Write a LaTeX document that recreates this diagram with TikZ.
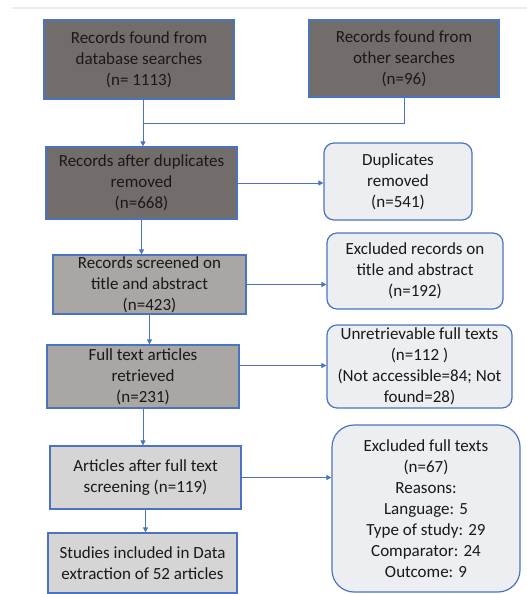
\documentclass[tikz,border=0pt]{standalone}
\usepackage{fontspec}
\setmainfont{Carlito}
\usetikzlibrary{arrows.meta, positioning, calc}

\begin{document}
\begin{tikzpicture}[x=1pt, y=-1pt,
  box/.style={draw=bordo, line width=1.2pt, align=center, inner sep=1pt,
    font=\fontsize{17}{21}\selectfont, text=black!90},
  escuro/.style={box, fill=cinzaA},
  medio/.style={box, fill=cinzaB},
  claro/.style={box, fill=cinzaC},
  exclui/.style={box, fill=cinzaD, rounded corners=10pt},
  linha/.style={draw=bordo, line width=0.9pt},
  seta/.style={linha, -{Triangle[width=5pt, length=5pt]}}]
% --- CORES ---
\definecolor{bordo}{HTML}{4A74C0}
\definecolor{cinzaA}{HTML}{726D6A}
\definecolor{cinzaB}{HTML}{AAA6A3}
\definecolor{cinzaC}{HTML}{D5D5D5}
\definecolor{cinzaD}{HTML}{ECEEF1}

\useasboundingbox (0,0) rectangle (527,594);

% LAYER 1: linha superior
\draw[line width=2pt, color=gray!15] (12,8) -- (527,8);

% LAYER 2: caixas principais
\node[escuro, minimum width=190pt, minimum height=79pt] (fontes) at (139,59.5) {Records found from\\database searches\\(n= 1113)};
\node[escuro, minimum width=190pt, minimum height=77pt] (outras) at (404,58.5) {Records found from\\other searches\\(n=96)};
\node[escuro, minimum width=191pt, minimum height=72pt] (semdup) at (141.5,183) {Records after duplicates\\removed\\(n=668)};
\node[medio, minimum width=193pt, minimum height=59pt] (triagem) at (149.5,284.5) {Records screened on\\title and abstract\\(n=423)};
\node[medio, minimum width=192pt, minimum height=63pt] (textos) at (143,376.5) {Full text articles\\retrieved\\(n=231)};
\node[claro, minimum width=191pt, minimum height=63pt] (artigos) at (145.5,477.5) {Articles after full text\\screening (n=119)};
\node[claro, minimum width=189pt, minimum height=60pt] (incluidos) at (142.5,563) {Studies included in Data\\extraction of 52 articles};

% LAYER 3: caixas de exclusao
\node[exclui, minimum width=148pt, minimum height=77pt] (dup) at (398,181.5) {Duplicates\\removed\\(n=541)};
\node[exclui, minimum width=176pt, minimum height=76pt] (excresumo) at (415,271) {Excluded records on\\title and abstract\\(n=192)};
\node[exclui, minimum width=185pt, minimum height=83pt] (irrecup) at (419.5,366.5) {Unretrievable full texts\\(n=112 )\\(Not accessible=84; Not\\found=28)};
\node[exclui, rounded corners=22pt, minimum width=188pt, minimum height=167pt] (exctexto) at (426,508.5) {Excluded full texts\\(n=67)\\Reasons:\\Language: 5\\Type of study: 29\\Comparator: 24\\Outcome: 9};

% LAYER 4: conectores
\coordinate (juncao) at (143,123);
\draw[linha] (fontes.south -| juncao) -- (juncao);
\draw[linha] (outras.south) |- (juncao);
\draw[seta] (juncao) -- (semdup.north -| juncao);
\draw[seta] (semdup.south) -- (semdup.south |- triagem.north);
\draw[seta] (triagem.south) -- (triagem.south |- textos.north);
\draw[seta] (textos.south) -- (textos.south |- artigos.north);
\draw[seta] (artigos.south) -- (artigos.south |- incluidos.north);
\draw[seta] (semdup.east) -- (semdup.east -| dup.west);
\draw[seta] (triagem.east) -- (triagem.east -| excresumo.west);
\draw[seta] ($(textos.east)+(0,-11)$) -- ($(textos.east -| irrecup.west)+(0,-11)$);
\draw[seta] (artigos.east) -- (artigos.east -| exctexto.west);
\end{tikzpicture}
\end{document}
